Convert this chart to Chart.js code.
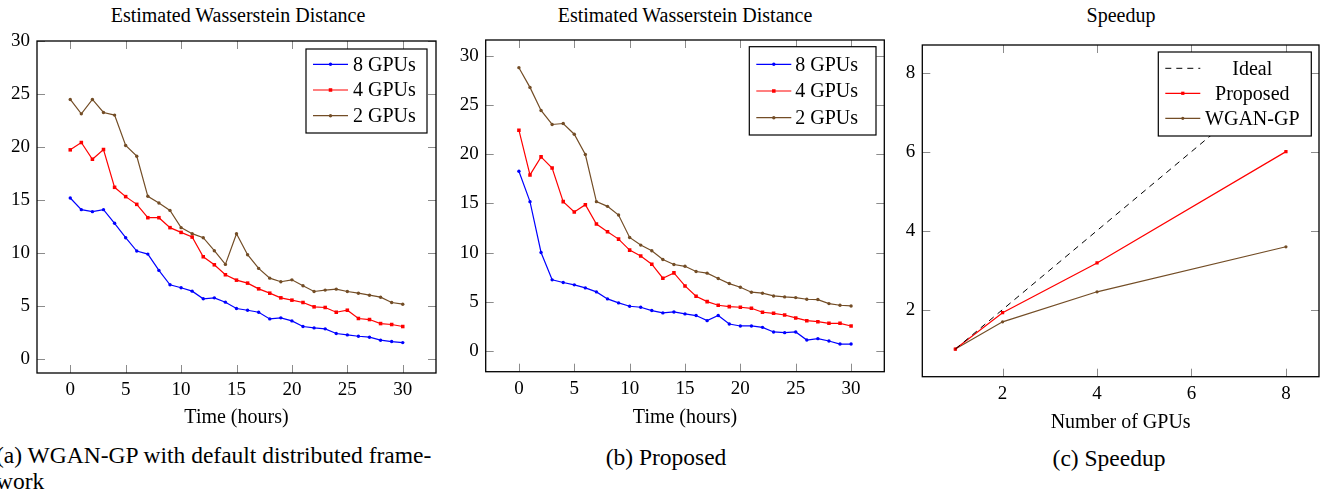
<!DOCTYPE html>
<html>
<head>
<meta charset="utf-8">
<script src="https://cdn.jsdelivr.net/npm/chart.js@4/dist/chart.umd.min.js"></script>
<style>
  body { margin: 0; width: 1323px; height: 497px; background: #fff; overflow: hidden; position: relative;
         font-family: "Liberation Serif", "Times New Roman", serif; color: #000; }
  canvas { position: absolute; top: 0; }
  .txt { position: absolute; font-size: 20px; white-space: nowrap; line-height: 26px; }
  .cap { font-size: 23.5px; }
  .ctr { transform: translateX(-50%); }
</style>
</head>
<body>
<div class="txt ctr" style="left:238px; top:2px;">Estimated Wasserstein Distance</div>
<div class="txt ctr" style="left:685px; top:2px;">Estimated Wasserstein Distance</div>
<div class="txt ctr" style="left:1121px; top:2px;">Speedup</div>
<div class="txt cap" style="left:-4px; top:442px;">(a) WGAN-GP with default distributed frame-<br>work</div>
<div class="txt cap ctr" style="left:666px; top:444px;">(b) Proposed</div>
<div class="txt cap ctr" style="left:1109px; top:445px;">(c) Speedup</div>

<canvas id="chartA" style="left:0px;" width="446" height="440"></canvas>
<canvas id="chartB" style="left:446px;" width="444" height="440"></canvas>
<canvas id="chartC" style="left:890px;" width="433" height="445"></canvas>

<script>
// ---- data ----
const hours = [0, 1, 2, 3, 4, 5, 6, 7, 8, 9, 10, 11, 12, 13, 14, 15, 16, 17, 18, 19, 20,
  21, 22, 23, 24, 25, 26, 27, 28, 29, 30];

// (a) WGAN-GP with default distributed framework
const a8 = [15.17, 14.07, 13.88, 14.07, 12.78, 11.42, 10.16, 9.87, 8.33, 6.97, 6.69, 6.37, 5.65, 5.74, 5.33,
  4.73, 4.57, 4.38, 3.75, 3.85, 3.56, 3.03, 2.9, 2.81, 2.37, 2.24, 2.11, 2.02, 1.74, 1.61, 1.51];
const a4 = [19.72, 20.41, 18.83, 19.75, 16.18, 15.3, 14.57, 13.31, 13.31, 12.37, 11.92, 11.48, 9.62, 8.86, 7.92,
  7.41, 7.13, 6.59, 6.18, 5.74, 5.52, 5.3, 4.89, 4.83, 4.38, 4.57, 3.79, 3.69, 3.31, 3.22, 3.03];
const a2 = [24.48, 23.12, 24.48, 23.25, 23.0, 20.13, 19.12, 15.33, 14.7, 14.0, 12.37, 11.8, 11.42, 10.19, 8.9,
  11.8, 9.81, 8.52, 7.6, 7.26, 7.44, 6.88, 6.34, 6.47, 6.56, 6.34, 6.18, 5.99, 5.8, 5.3, 5.14];

// (b) Proposed
const b8 = [18.28, 15.19, 10.01, 7.22, 6.95, 6.71, 6.4, 5.99, 5.28, 4.87, 4.53, 4.43, 4.09, 3.85, 3.95,
  3.75, 3.58, 3.06, 3.58, 2.72, 2.52, 2.52, 2.38, 1.91, 1.84, 1.91, 1.09, 1.23, 0.99, 0.68, 0.68];
const b4 = [22.47, 17.91, 19.75, 18.62, 15.19, 14.13, 14.88, 12.9, 12.12, 11.37, 10.25, 9.64, 8.82, 7.39, 7.93,
  6.6, 5.55, 5.0, 4.63, 4.49, 4.43, 4.32, 3.92, 3.81, 3.64, 3.34, 3.06, 2.96, 2.79, 2.79, 2.52];
const b2 = [28.84, 26.83, 24.48, 23.05, 23.15, 22.06, 19.99, 15.19, 14.71, 13.82, 11.54, 10.76, 10.18, 9.3, 8.78,
  8.6, 8.07, 7.9, 7.35, 6.84, 6.47, 5.96, 5.86, 5.58, 5.48, 5.41, 5.24, 5.21, 4.8, 4.63, 4.56];

// (c) Speedup
const gpus = [1, 2, 4, 8];
const ideal = [1, 2, 4, 8];
const proposed = [1, 1.92, 3.18, 6.0];
const wgan = [1, 1.69, 2.45, 3.59];

// tick labels
const timeTicks = [0, 5, 10, 15, 20, 25, 30];
const distTicks = [0, 5, 10, 15, 20, 25, 30];
const gpuTicks = [2, 4, 6, 8];
const speedTicks = [2, 4, 6, 8];

const SERIF = '"Liberation Serif", "Times New Roman", serif';
const BLUE = "#0000ff", RED = "#ff0000", BROWN = "#734d26";

const pts = (xs, ys) => xs.map((x, i) => ({ x: x, y: ys[i] }));

// pgfplots-like box: inward ticks on all four sides + black frame
const frame = {
  id: "frame",
  beforeDatasetsDraw(chart) {
    const { ctx, chartArea: a, scales } = chart;
    ctx.save();
    ctx.strokeStyle = "#8c8c8c";
    ctx.lineWidth = 1;
    ctx.beginPath();
    scales.x.ticks.forEach((t) => {
      const p = Math.round(scales.x.getPixelForValue(t.value)) + 0.5;
      ctx.moveTo(p, a.bottom); ctx.lineTo(p, a.bottom - 8);
      ctx.moveTo(p, a.top); ctx.lineTo(p, a.top + 8);
    });
    scales.y.ticks.forEach((t) => {
      const p = Math.round(scales.y.getPixelForValue(t.value)) + 0.5;
      ctx.moveTo(a.left, p); ctx.lineTo(a.left + 8, p);
      ctx.moveTo(a.right, p); ctx.lineTo(a.right - 8, p);
    });
    ctx.stroke();
    ctx.restore();
  },
  afterDraw(chart) {
    const { ctx, chartArea: a } = chart;
    ctx.save();
    ctx.strokeStyle = "#000";
    ctx.lineWidth = 1.3;
    ctx.strokeRect(a.left, a.top, a.right - a.left, a.bottom - a.top);
    ctx.restore();
  },
};

function drawMark(ctx, style, r, x, y, color) {
  ctx.fillStyle = color;
  ctx.beginPath();
  if (style === "rect") ctx.rect(x - r * 0.707, y - r * 0.707, r * 1.414, r * 1.414);
  else ctx.arc(x, y, r, 0, Math.PI * 2);
  ctx.fill();
}

// legend box drawn inside the plot, top right
const boxLegend = {
  id: "boxLegend",
  afterDraw(chart, args, o) {
    const { ctx, chartArea: a } = chart;
    const left = a.right - o.right - o.w, top = a.top + o.top;
    ctx.save();
    ctx.fillStyle = "#fff";
    ctx.fillRect(left, top, o.w, o.h);
    ctx.strokeStyle = "#000";
    ctx.lineWidth = 1.2;
    ctx.strokeRect(left, top, o.w, o.h);
    ctx.font = "20px " + SERIF;
    ctx.textBaseline = "middle";
    ctx.textAlign = o.center ? "center" : "left";
    chart.data.datasets.forEach((ds, i) => {
      const y = top + o.row0 + i * o.dy;
      ctx.strokeStyle = ds.borderColor;
      ctx.lineWidth = ds.borderWidth;
      ctx.setLineDash(ds.borderDash || []);
      ctx.beginPath();
      ctx.moveTo(left + 7, y); ctx.lineTo(left + 42, y);
      ctx.stroke();
      ctx.setLineDash([]);
      if (ds.pointRadius > 0) drawMark(ctx, ds.pointStyle, ds.pointRadius, left + 24.5, y, ds.borderColor);
      ctx.fillStyle = "#000";
      ctx.fillText(ds.label, left + o.textX, y + 1);
    });
    ctx.restore();
  },
};

function series(label, data, color, style, r) {
  return {
    label: label, data: data, borderColor: color, backgroundColor: color,
    borderWidth: 1.2, pointStyle: style, pointRadius: r, pointBorderWidth: 0,
    pointBackgroundColor: color, tension: 0,
  };
}

function makeChart(id, datasets, p) {
  const tickFont = { family: SERIF, size: 19 };
  return new Chart(document.getElementById(id), {
    type: "line",
    data: { datasets: datasets },
    plugins: [frame, boxLegend],
    options: {
      responsive: false,
      animation: false,
      layout: { padding: { top: p.top, right: p.right, left: 0, bottom: 0 } },
      plugins: { legend: { display: false }, tooltip: { enabled: false }, boxLegend: p.legend },
      scales: {
        x: {
          type: "linear", min: p.xMin, max: p.xMax,
          grid: { display: false, drawTicks: false }, border: { display: false },
          afterBuildTicks: (s) => { s.ticks = p.xTicks.map((v) => ({ value: v })); },
          afterFit: (s) => { s.height = p.xH; },
          ticks: { padding: 6, font: tickFont, color: "#000", maxRotation: 0, autoSkip: false,
            callback: (v) => String(v) },
          title: { display: true, text: p.xTitle, color: "#000", font: { family: SERIF, size: 20 },
            padding: { top: 0, bottom: p.titlePad } },
        },
        y: {
          min: p.yMin, max: p.yMax,
          grid: { display: false, drawTicks: false }, border: { display: false },
          afterBuildTicks: (s) => { s.ticks = p.yTicks.map((v) => ({ value: v })); },
          afterFit: (s) => { s.width = p.yW; },
          ticks: { padding: 7, font: tickFont, color: "#000", autoSkip: false, callback: (v) => String(v) },
        },
      },
    },
  });
}

makeChart("chartA", [
  series("8 GPUs", pts(hours, a8), BLUE, "circle", 1.7),
  series("4 GPUs", pts(hours, a4), RED, "rect", 2.5),
  series("2 GPUs", pts(hours, a2), BROWN, "circle", 1.7),
], {
  top: 41, right: 10, xMin: -3, xMax: 33, yMin: -1.36, yMax: 30,
  xTicks: timeTicks, yTicks: distTicks, xH: 67, yW: 37, titlePad: 10, xTitle: "Time (hours)",
  legend: { right: 9, top: 8, w: 121, h: 84, row0: 15.3, dy: 25.7, textX: 47, center: false },
});

makeChart("chartB", [
  series("8 GPUs", pts(hours, b8), BLUE, "circle", 1.7),
  series("4 GPUs", pts(hours, b4), RED, "rect", 2.5),
  series("2 GPUs", pts(hours, b2), BROWN, "circle", 1.7),
], {
  top: 40, right: 5.7, xMin: -3, xMax: 33, yMin: -2.14, yMax: 31.66,
  xTicks: timeTicks, yTicks: distTicks, xH: 68.3, yW: 39.7, titlePad: 10, xTitle: "Time (hours)",
  legend: { right: 8.3, top: 6.7, w: 126.7, h: 88.3, row0: 17.6, dy: 26.7, textX: 46, center: false },
});

const idealSet = series("Ideal", pts(gpus, ideal), "#000", "circle", 0);
idealSet.borderWidth = 1;
idealSet.borderDash = [6, 5];

makeChart("chartC", [
  idealSet,
  series("Proposed", pts(gpus, proposed), RED, "rect", 2.3),
  series("WGAN-GP", pts(gpus, wgan), BROWN, "circle", 1.6),
], {
  top: 45, right: 2.3, xMin: 0.3, xMax: 8.7, yMin: 0.3, yMax: 8.7,
  xTicks: gpuTicks, yTicks: speedTicks, xH: 68.3, yW: 32.3, titlePad: 10, xTitle: "Number of GPUs",
  legend: { right: 7.7, top: 7, w: 153, h: 84, row0: 16.3, dy: 25, textX: 94, center: true },
});
</script>
</body>
</html>
